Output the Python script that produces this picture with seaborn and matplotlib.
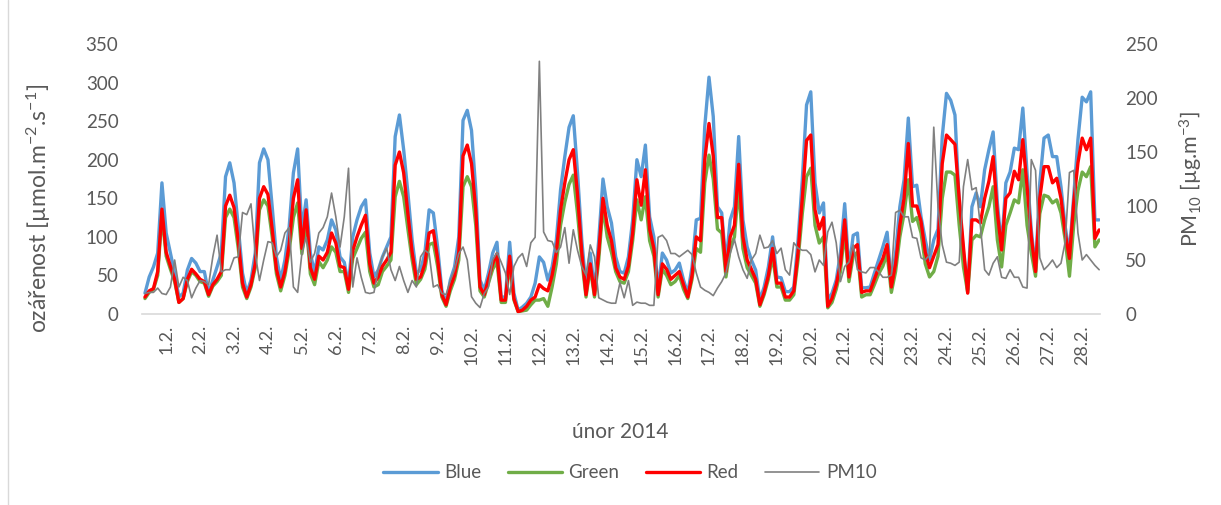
import matplotlib
matplotlib.use("Agg")
import numpy as np
import pandas as pd
import seaborn as sns
import matplotlib.pyplot as plt
from matplotlib.lines import Line2D

# ---------------- data ----------------
day_labels = ["1.2.", "2.2.", "3.2.", "4.2.", "5.2.", "6.2.", "7.2.", "8.2.", "9.2.", "10.2.",
              "11.2.", "12.2.", "13.2.", "14.2.", "15.2.", "16.2.", "17.2.", "18.2.", "19.2.",
              "20.2.", "21.2.", "22.2.", "23.2.", "24.2.", "25.2.", "26.2.", "27.2.", "28.2."]

blue = [27, 48, 61, 79, 170, 105, 79, 53, 22, 27, 57, 72, 66, 55, 55, 27, 44, 61, 79, 178, 196, 170, 113, 53, 27, 44, 79, 196, 214, 200, 139, 74, 44, 70, 113, 183, 214,
        109, 148, 79, 53, 87, 83, 96, 122, 109, 74, 67, 38, 100, 122, 139, 148, 79, 48, 57, 74, 87, 100, 230, 258, 213, 157, 96, 53, 57, 79, 135, 131, 87, 31, 14, 44, 61,
        100, 251, 264, 238, 161, 44, 31, 53, 79, 93, 22, 22, 93, 27, 5, 9, 14, 22, 40, 74, 67, 44, 61, 96, 161, 204, 242, 257, 183, 96, 35, 79, 31, 96, 175, 139, 118, 74, 55,
        53, 74, 122, 200, 178, 219, 126, 100, 31, 79, 70, 53, 57, 66, 44, 27, 61, 122, 124, 243, 307, 256, 139, 131, 66, 122, 139, 230, 122, 87, 70, 57, 18, 35, 61, 100, 48, 47,
        29, 29, 35, 96, 174, 271, 288, 170, 131, 144, 18, 27, 44, 79, 143, 57, 102, 105, 34, 34, 35, 53, 70, 87, 106, 40, 79, 139, 174, 254, 165, 167, 126, 96, 70, 96, 110, 230,
        286, 277, 258, 144, 79, 31, 139, 157, 139, 187, 213, 236, 144, 87, 170, 184, 215, 213, 267, 183, 109, 57, 170, 228, 232, 204, 204, 165, 113, 79, 152, 226, 281, 275, 288, 122, 122]

green = [20, 28, 32, 50, 128, 75, 58, 42, 15, 20, 42, 55, 50, 42, 40, 23, 36, 42, 50, 125, 136, 125, 85, 35, 20, 35, 60, 135, 148, 140, 100, 52, 30, 50, 82, 125, 144,
         78, 118, 52, 38, 68, 60, 70, 87, 80, 55, 55, 28, 72, 85, 98, 106, 55, 35, 38, 55, 62, 70, 152, 172, 152, 110, 70, 38, 45, 58, 90, 92, 62, 22, 10, 30, 45,
         70, 165, 178, 165, 115, 30, 22, 40, 58, 68, 15, 15, 65, 18, 3, 4, 5, 12, 18, 18, 20, 10, 35, 65, 115, 145, 168, 180, 130, 70, 22, 60, 22, 70, 139, 100, 80, 55, 42,
         40, 55, 95, 148, 122, 152, 95, 75, 22, 58, 50, 38, 42, 50, 32, 20, 45, 85, 80, 170, 206, 175, 110, 105, 48, 85, 100, 165, 85, 60, 50, 40, 10, 25, 45, 75, 35, 35,
         18, 18, 25, 70, 130, 178, 189, 115, 92, 100, 8, 15, 32, 55, 108, 42, 75, 80, 22, 25, 25, 38, 52, 62, 78, 28, 55, 100, 130, 174, 120, 125, 105, 65, 48, 55, 75, 150,
         184, 184, 180, 115, 61, 28, 96, 102, 100, 122, 139, 165, 96, 61, 115, 131, 148, 144, 187, 115, 79, 49, 130, 154, 152, 144, 148, 131, 96, 49, 115, 160, 184, 178, 191, 87, 96]

red = [22, 30, 33, 55, 136, 80, 62, 45, 15, 20, 45, 58, 52, 45, 42, 25, 38, 45, 55, 140, 154, 138, 95, 40, 22, 38, 65, 150, 165, 155, 110, 58, 35, 55, 90, 150, 174,
       85, 135, 60, 45, 75, 70, 80, 105, 92, 62, 60, 32, 82, 100, 115, 128, 65, 40, 48, 62, 70, 80, 193, 210, 183, 130, 80, 45, 48, 65, 105, 108, 72, 25, 12, 35, 50,
       80, 205, 219, 195, 135, 35, 25, 45, 65, 78, 18, 18, 75, 20, 3, 5, 10, 18, 22, 38, 33, 30, 50, 80, 135, 170, 200, 213, 155, 80, 25, 65, 25, 80, 150, 115, 95, 60, 48,
       45, 62, 105, 174, 141, 187, 110, 85, 25, 65, 58, 45, 50, 55, 38, 22, 50, 100, 95, 200, 247, 205, 125, 125, 55, 100, 115, 194, 100, 70, 58, 45, 12, 28, 50, 85, 40, 40,
       22, 22, 30, 80, 150, 225, 232, 135, 110, 125, 10, 20, 38, 65, 122, 48, 85, 90, 28, 30, 30, 45, 60, 72, 90, 35, 65, 115, 150, 221, 140, 140, 120, 80, 60, 75, 90, 195,
       232, 226, 220, 150, 87, 27, 122, 122, 118, 150, 172, 204, 131, 83, 150, 157, 185, 174, 226, 165, 100, 55, 150, 191, 191, 170, 176, 150, 105, 72, 144, 196, 228, 213, 228, 98, 109]

pm10 = [19, 20, 20, 24, 19, 18, 25, 50, 25, 34, 31, 15, 24, 31, 30, 27, 53, 73, 39, 41, 41, 52, 53, 94, 92, 102, 56, 31, 50, 67, 66, 53, 59, 75, 80, 25, 20,
        56, 71, 48, 56, 75, 80, 90, 112, 90, 62, 90, 135, 25, 52, 34, 20, 19, 20, 41, 53, 61, 41, 31, 44, 31, 20, 31, 25, 53, 59, 56, 25, 27, 19, 18, 31, 41,
        56, 62, 50, 16, 10, 6, 19, 25, 50, 57, 48, 38, 18, 44, 52, 56, 44, 66, 71, 234, 76, 68, 67, 57, 62, 80, 47, 78, 59, 44, 36, 64, 53, 15, 13, 11, 10, 10, 29,
        15, 31, 8, 11, 10, 10, 8, 8, 71, 73, 68, 56, 56, 53, 56, 59, 55, 38, 25, 22, 20, 17, 24, 30, 38, 56, 69, 53, 41, 33, 50, 56, 73, 61, 62, 68, 56, 61,
        41, 36, 66, 61, 59, 59, 55, 39, 50, 45, 76, 85, 66, 30, 44, 48, 64, 41, 39, 38, 43, 43, 39, 34, 34, 36, 94, 96, 90, 90, 71, 70, 52, 50, 55, 173, 99, 64,
        48, 47, 45, 48, 118, 143, 115, 117, 81, 41, 36, 47, 53, 34, 33, 41, 34, 34, 25, 24, 143, 133, 52, 41, 45, 50, 43, 47, 67, 131, 133, 75, 50, 55, 50, 45, 41]

series_names = ["Blue", "Green", "Red", "PM10"]
colors = {"Blue": "#5B9BD5", "Green": "#70AD47", "Red": "#FF0000", "PM10": "#808080"}

# ---------------- figure ----------------
sns.set_theme(style="white")
plt.rcParams["font.family"] = ["Lato", "DejaVu Sans"]
plt.rcParams["mathtext.default"] = "regular"
TXT = "#595959"

W, H = 1221, 505
fig = plt.figure(figsize=(W / 100, H / 100), dpi=100)
L, R, T, B = 142, 1100, 44, 314
ax = fig.add_axes([L / W, 1 - B / H, (R - L) / W, (B - T) / H])

idx = np.arange(len(blue))
df = pd.DataFrame({"t": idx, "Blue": blue, "Green": green, "Red": red, "PM10": pm10})

sns.lineplot(data=df, x="t", y="Blue", ax=ax, color=colors["Blue"], linewidth=2.4, label="Blue", legend=False)
sns.lineplot(data=df, x="t", y="Green", ax=ax, color=colors["Green"], linewidth=2.4, label="Green", legend=False)
sns.lineplot(data=df, x="t", y="Red", ax=ax, color=colors["Red"], linewidth=2.4, label="Red", legend=False)

ax2 = ax.twinx()
sns.lineplot(data=df, x="t", y="PM10", ax=ax2, color=colors["PM10"], linewidth=1.2, label="PM10", legend=False)

ax.set_xlim(-0.7, 225.2)
ax.set_ylim(0, 350)
ax.set_yticks(range(0, 351, 50))
ax2.set_ylim(0, 250)
ax2.set_yticks(range(0, 251, 50))

tick_pos = [8 * d + 5 for d in range(len(day_labels))]
ax.set_xticks(tick_pos)
ax.set_xticklabels(day_labels, rotation=90)

for a in (ax, ax2):
    for s in a.spines.values():
        s.set_visible(False)
    a.grid(False)
ax.spines["bottom"].set_visible(True)
ax.spines["bottom"].set_color("#D9D9D9")
ax.spines["bottom"].set_linewidth(1.2)

ax.tick_params(axis="x", length=0, pad=8, labelsize=13, labelcolor=TXT)
ax.tick_params(axis="y", length=0, pad=17, labelsize=13.5, labelcolor=TXT)
ax2.tick_params(axis="y", length=0, pad=18, labelsize=13.5, labelcolor=TXT)

ax.set_xlabel("")
ax.set_ylabel(r"ozářenost [µmol.m$^{-2}$.s$^{-1}$]", fontsize=16.5, color=TXT)
ax.yaxis.set_label_coords(-0.093, 0.39)
ax2.set_ylabel(r"PM$_{10}$ [µg.m$^{-3}$]", fontsize=15.5, color=TXT, rotation=90)
ax2.yaxis.set_label_coords(1.0814, 0.5)

fig.text(620 / W, 1 - 432 / H, "únor 2014", ha="center", va="center", fontsize=15, color=TXT)

handles = ax.get_lines()[:3] + ax2.get_lines()[:1]
fig.legend(handles, series_names, loc="center", bbox_to_anchor=(630 / W, 1 - 473 / H), ncol=4,
           frameon=False, handlelength=2.9, handletextpad=0.35, columnspacing=1.4,
           fontsize=13.5, labelcolor=TXT)

# chart area border (light grey, as in the reference)
fig.add_artist(Line2D([8 / W, 8 / W], [0, 1], transform=fig.transFigure, color="#D9D9D9", lw=1))

fig.savefig("out.png", dpi=100, facecolor="white")
